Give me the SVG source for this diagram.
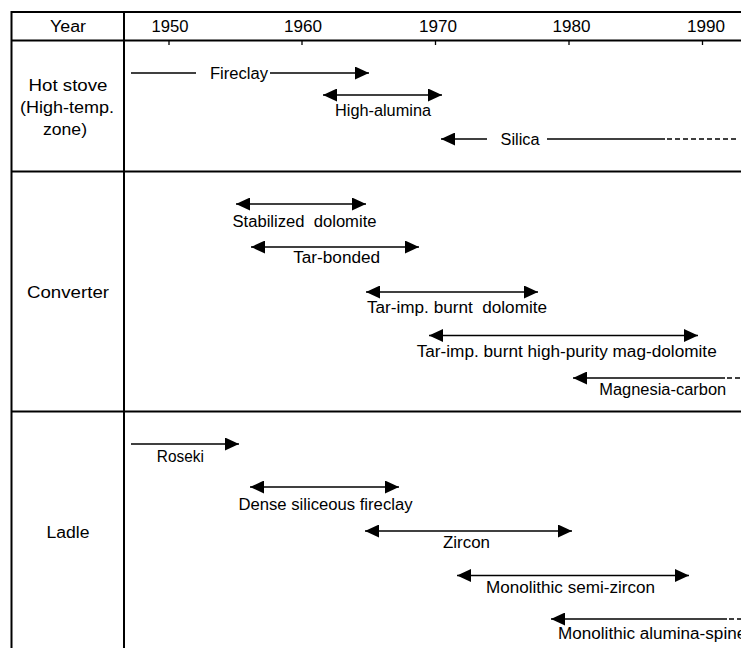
<svg xmlns="http://www.w3.org/2000/svg" width="741" height="648" viewBox="0 0 741 648">
<style>
text{font-family:"Liberation Sans","Noto Sans CJK JP",sans-serif;font-size:16px;fill:#000}
.m{text-anchor:middle}
.grid{stroke:#000;stroke-width:2;fill:none}
.tick{stroke:#000;stroke-width:1.3}
.bar{stroke:#000;stroke-width:1.3;fill:none}
.dash{stroke:#000;stroke-width:1.3;fill:none;stroke-dasharray:5 3}
.r{marker-end:url(#ah)}
.b{marker-start:url(#ah);marker-end:url(#ah)}
</style>
<defs>
<marker id="ah" markerUnits="userSpaceOnUse" markerWidth="14" markerHeight="13" refX="14" refY="6.5" orient="auto-start-reverse" viewBox="0 0 14 13">
<path d="M0,0 L14,6.5 L0,13 z" fill="#000"/>
</marker>
</defs>
<rect width="741" height="648" fill="#fff"/>
<g id="table">
<path class="grid" d="M11.5,648 V12 H741 M11.5,40.5 H741 M11.5,171.5 H741 M11.5,411.5 H741 M124,12 V648"/>
<path class="tick" d="M169,40 V45 M302,40 V45 M435.5,40 V45 M569,40 V45 M702.5,40 V45"/>
</g>
<g id="header">
<text class="m" x="68" y="32" textLength="36" lengthAdjust="spacingAndGlyphs">Year</text>
<text class="m" x="170" y="32" textLength="37" lengthAdjust="spacingAndGlyphs">1950</text>
<text class="m" x="303" y="32" textLength="38" lengthAdjust="spacingAndGlyphs">1960</text>
<text class="m" x="438" y="32" textLength="38" lengthAdjust="spacingAndGlyphs">1970</text>
<text class="m" x="571.5" y="32" textLength="38" lengthAdjust="spacingAndGlyphs">1980</text>
<text class="m" x="706" y="32" textLength="38" lengthAdjust="spacingAndGlyphs">1990</text>
</g>
<g id="row-hot-stove">
<text class="m" x="68" y="91" textLength="79" lengthAdjust="spacingAndGlyphs">Hot stove</text>
<text class="m" x="67" y="113" textLength="94" lengthAdjust="spacingAndGlyphs">(High-temp.</text>
<text class="m" x="65" y="135" textLength="44" lengthAdjust="spacingAndGlyphs">zone)</text>
</g>
<g id="row-converter">
<text class="m" x="68" y="298" textLength="82" lengthAdjust="spacingAndGlyphs">Converter</text>
</g>
<g id="row-ladle">
<text class="m" x="68" y="538" textLength="43" lengthAdjust="spacingAndGlyphs">Ladle</text>
</g>
<g id="connectors">
<path class="bar" d="M131,73 H196"/>
<path class="bar r" d="M270,73 H369"/>
<path class="bar b" d="M323,95 H442"/>
<path class="bar r" d="M487,139 H441"/>
<path class="bar" d="M547,139 H665"/>
<path class="dash" d="M667,139 H738"/>
<path class="bar b" d="M236,204 H366"/>
<path class="bar b" d="M251,247 H419"/>
<path class="bar b" d="M366,292 H538"/>
<path class="bar b" d="M429,335.5 H698"/>
<path class="bar r" d="M725,378 H573"/>
<path class="dash" d="M727,378 H741"/>
<path class="bar r" d="M131,444 H239"/>
<path class="bar b" d="M250,487 H399"/>
<path class="bar b" d="M365,531 H572"/>
<path class="bar b" d="M457,575.5 H689"/>
<path class="bar r" d="M727,619 H551"/>
<path class="dash" d="M729,619 H741"/>
</g>
<g id="fireclay"><text class="m" x="239" y="79" textLength="58" lengthAdjust="spacingAndGlyphs">Fireclay</text></g>
<g id="high-alumina"><text class="m" x="383" y="116" textLength="96" lengthAdjust="spacingAndGlyphs">High-alumina</text></g>
<g id="silica"><text class="m" x="520" y="145" textLength="39" lengthAdjust="spacingAndGlyphs">Silica</text></g>
<g id="stabilized-dolomite"><text class="m" x="304.5" y="227" textLength="144" lengthAdjust="spacingAndGlyphs" xml:space="preserve">Stabilized  dolomite</text></g>
<g id="tar-bonded"><text class="m" x="336.7" y="263" textLength="87" lengthAdjust="spacingAndGlyphs">Tar-bonded</text></g>
<g id="tar-imp-burnt-dolomite"><text class="m" x="457" y="313" textLength="180" lengthAdjust="spacingAndGlyphs" xml:space="preserve">Tar-imp. burnt  dolomite</text></g>
<g id="tar-imp-mag-dolomite"><text class="m" x="566.7" y="357" textLength="300" lengthAdjust="spacingAndGlyphs">Tar-imp. burnt high-purity mag-dolomite</text></g>
<g id="magnesia-carbon"><text class="m" x="662.7" y="395" textLength="127" lengthAdjust="spacingAndGlyphs">Magnesia-carbon</text></g>
<g id="roseki"><text class="m" x="180.3" y="462" textLength="47" lengthAdjust="spacingAndGlyphs">Roseki</text></g>
<g id="dense-siliceous-fireclay"><text class="m" x="325.5" y="510" textLength="174" lengthAdjust="spacingAndGlyphs">Dense siliceous fireclay</text></g>
<g id="zircon"><text class="m" x="466.5" y="548" textLength="47" lengthAdjust="spacingAndGlyphs">Zircon</text></g>
<g id="monolithic-semi-zircon"><text class="m" x="570.5" y="593" textLength="169" lengthAdjust="spacingAndGlyphs">Monolithic semi-zircon</text></g>
<g id="monolithic-alumina-spinel"><text x="558" y="639" textLength="192" lengthAdjust="spacingAndGlyphs">Monolithic alumina-spinel</text></g>
</svg>
